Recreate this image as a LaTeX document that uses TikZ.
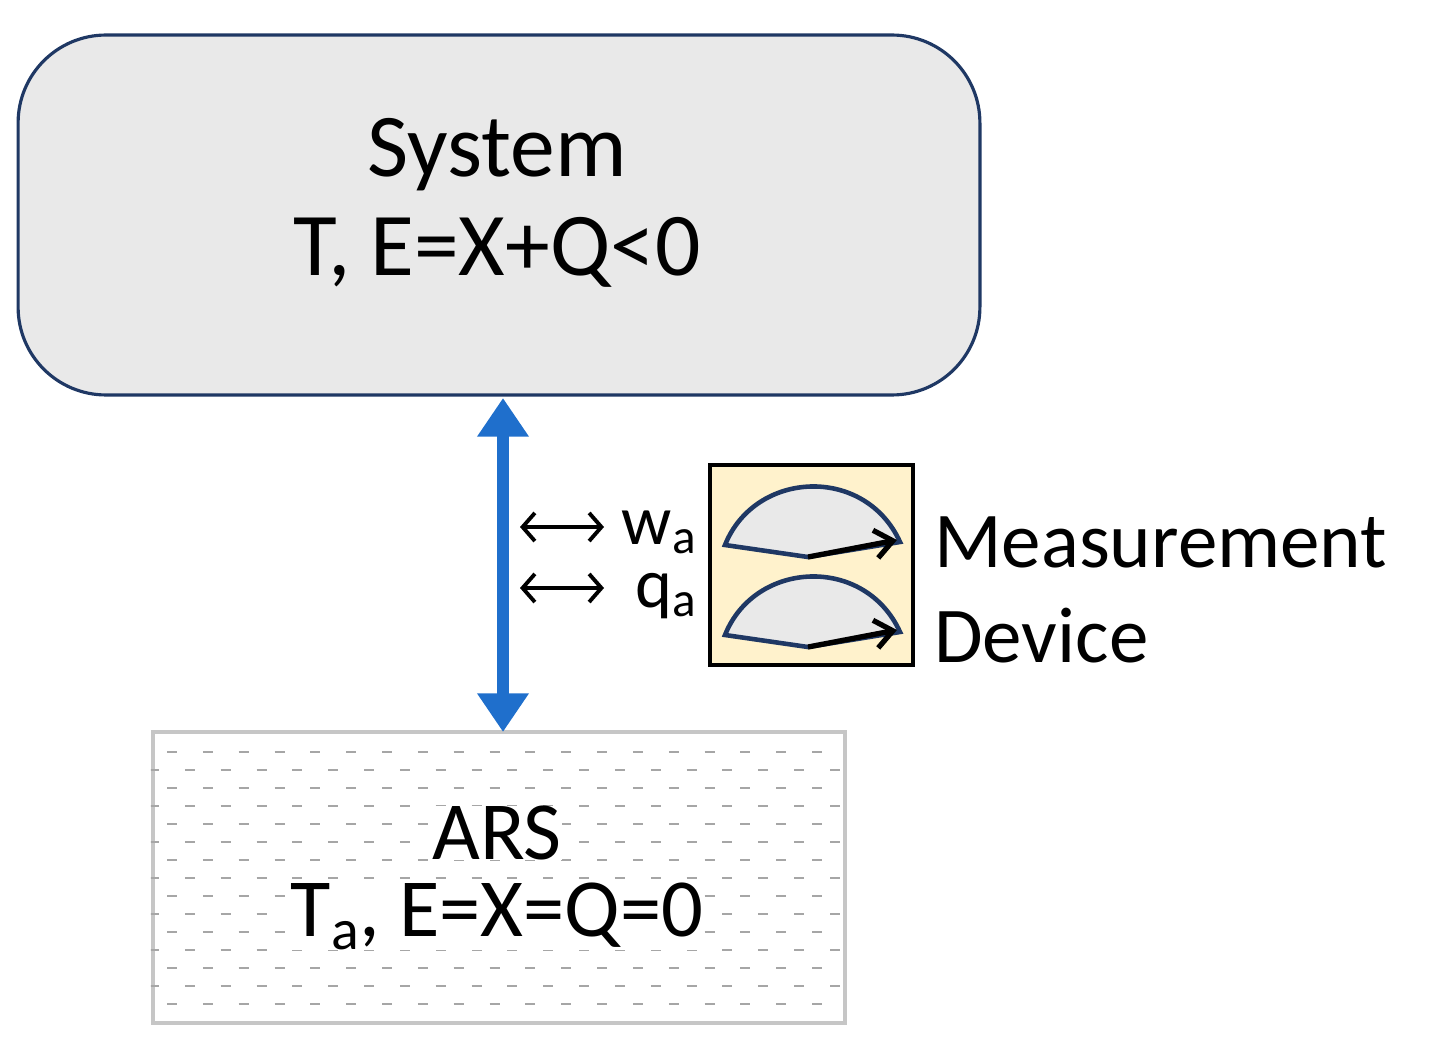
\documentclass[tikz,border=0pt]{standalone}
\usepackage{fontspec}
\setmainfont{Carlito}
\usetikzlibrary{positioning, arrows.meta}
\definecolor{navy}{HTML}{1F3864}
\definecolor{flowblue}{HTML}{1F6FCC}
\definecolor{devfill}{HTML}{FFF2CC}
\begin{document}
\begin{tikzpicture}[x=0.02cm, y=-0.02cm, every node/.style={font=\fontsize{51}{62}\selectfont, align=center}]
  \useasboundingbox (0,0) rectangle (1429,1040);
  % Nodes
  \node[draw=navy, line width=1.8pt, fill=gray!17, rounded corners=50pt, minimum width=19.24cm, minimum height=7.2cm] (system) at (499,215) {};
  \node at (497,155) {System};
  \node at (497,252) {T, E=X+Q<0};
  \node[draw=gray!45, line width=2.6pt, minimum width=13.84cm, minimum height=5.82cm, inner sep=0pt] (ars) at (499,877.5) {};
  \begin{scope}
    \clip (ars.south west) rectangle (ars.north east);
    \foreach \i in {0,...,14} {
      \pgfmathsetmacro{\yy}{752+18*\i}
      \pgfmathsetmacro{\xo}{mod(\i,2)==0 ? 167 : 149}
      \draw[gray!70, line width=0.9pt, dash pattern=on 5.7pt off 14.7pt] (\xo,\yy) -- (850,\yy);
    }
  \end{scope}
  \node[fill=white, inner sep=0pt, font=\fontsize{47}{56}\selectfont] at (497,833) {ARS};
  \node[fill=white, inner sep=0pt, font=\fontsize{47}{56}\selectfont] at (497,916) {T\textsubscript{a}, E=X=Q=0};
  \node[draw=black, line width=2.3pt, fill=devfill, minimum width=4.06cm, minimum height=4cm, inner sep=0pt] (device) at (811.5,565) {};
  \node[anchor=west, font=\fontsize{45}{54}\selectfont, align=left] (label) at (928,590) {Measurement\\Device};
  \node[font=\fontsize{40}{46}\selectfont, anchor=east, inner sep=0pt] (wa) at (697,532) {w\textsubscript{a}};
  \node[font=\fontsize{40}{46}\selectfont, anchor=east, inner sep=0pt] (qa) at (697,596) {q\textsubscript{a}};
  \coordinate (wl) at (520,527); \coordinate (wr) at (604,527);
  \coordinate (ql) at (520,588); \coordinate (qr) at (604,588);
  \coordinate (top) at (503,398); \coordinate (bot) at (503,732);

  % Gauges
  \foreach \dy in {0,90} {
    \begin{scope}[yshift=-\dy*0.02cm]
      \draw[navy, line width=2.6pt, fill=gray!17] (725,545) .. controls (755,470) and (865,465) .. (900,542) -- (808,557) -- cycle;
      \draw[-{Straight Barb[length=10pt, width=16pt]}, line width=3pt] (808,557) -- (897,540);
    \end{scope}
  }

  % Arrows
  \draw[{Triangle[length=22pt, width=28pt]}-{Triangle[length=22pt, width=28pt]}, flowblue, line width=6.5pt] (top) -- (bot);
  \draw[{Straight Barb[length=7pt, width=16pt]}-{Straight Barb[length=7pt, width=16pt]}, line width=2.2pt] (wl) -- (wr);
  \draw[{Straight Barb[length=7pt, width=16pt]}-{Straight Barb[length=7pt, width=16pt]}, line width=2.2pt] (ql) -- (qr);
\end{tikzpicture}
\end{document}
